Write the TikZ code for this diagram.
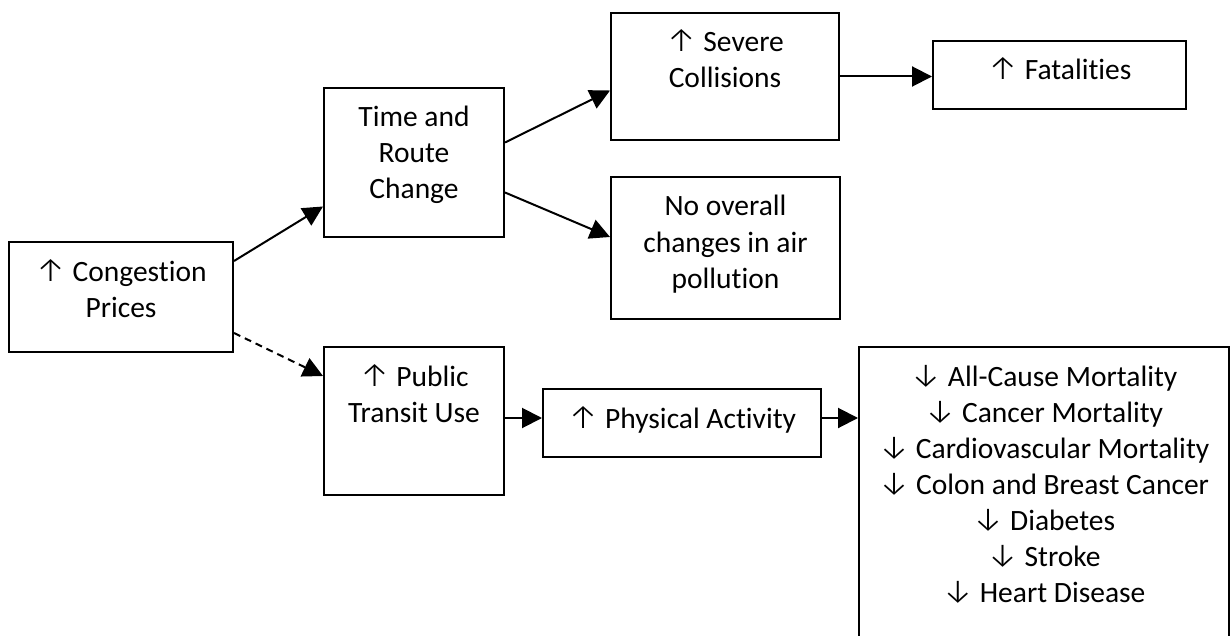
\documentclass[tikz,border=0pt]{standalone}
\usepackage{fontspec}
\setmainfont{Carlito}[Ligatures=NoCommon]
\newfontfamily\arrowfont{Fira Sans Light}[Scale=1.15]
\usetikzlibrary{arrows.meta}

\newcommand{\uparr}{{\arrowfont\char"2191}}
\newcommand{\dnarr}{{\arrowfont\char"2193}}
% box text sits at the top, like a word text box
\newcommand{\boxtext}[3]{\parbox[c][#2][t]{#1}{\centering\rule{0pt}{19.5pt}#3}}

\begin{document}
\begin{tikzpicture}[x=0.5pt, y=-0.5pt,
                    every node/.style={font=\fontsize{14.75pt}{18pt}\selectfont},
                    box/.style={draw, line width=1pt, inner sep=0pt, fill=white},
                    link/.style={line width=1pt, -{Triangle[length=10pt,width=10pt]}},
                    maybe link/.style={link, dash pattern=on 3.5pt off 2.5pt}
]
\useasboundingbox (0,0) rectangle (1230,636);

\node [box] at (121,297) (cong) {\boxtext{112pt}{55pt}{\uparr\ Congestion\\Prices}};
\node [box] at (414,162.5) (route) {\boxtext{90pt}{74.5pt}{Time and\\Route\\Change}};
\node [box] at (725,76.5) (severe) {\boxtext{114pt}{63.5pt}{\uparr\ Severe\\Collisions}};
\node [box] at (1059.5,75) (fatal) {\boxtext{126.5pt}{34pt}{\uparr\ Fatalities}};
\node [box] at (725.5,248) (air) {\boxtext{114.5pt}{71pt}{No overall\\changes in air\\pollution}};
\node [box] at (414,421) (transit) {\boxtext{90pt}{74pt}{\uparr\ Public\\Transit Use}};
\node [box] at (682,423) (activity) {\boxtext{139pt}{34pt}{\uparr\ Physical Activity}};
\node [box] at (1044,497) (health) {\boxtext{185pt}{150pt}{\dnarr\ All-Cause Mortality\\
  \dnarr\ Cancer Mortality\\\dnarr\ Cardiovascular Mortality\\\dnarr\ Colon and Breast Cancer\\
  \dnarr\ Diabetes\\\dnarr\ Stroke\\\dnarr\ Heart Disease}};
%
\draw [link] ([yshift=18pt]cong.east) -- ([yshift=-22pt]route.west);
\draw [link] ([yshift=10pt]route.east) -- ([yshift=-7pt]severe.west);
\draw [link] ([yshift=-15pt]route.east) -- ([yshift=5.5pt]air.west);
\draw [link] (severe.east) -- (severe.east -| fatal.west);
%
\draw [maybe link] ([yshift=-18pt]cong.east) -- ([yshift=22.5pt]transit.west);
\draw [link] ([yshift=2.5pt]activity.west -| transit.east) -- ([yshift=2.5pt]activity.west);
\draw [link] ([yshift=2.5pt]activity.east) -- ([yshift=2.5pt]activity.east -| health.west);
\end{tikzpicture}
\end{document}
